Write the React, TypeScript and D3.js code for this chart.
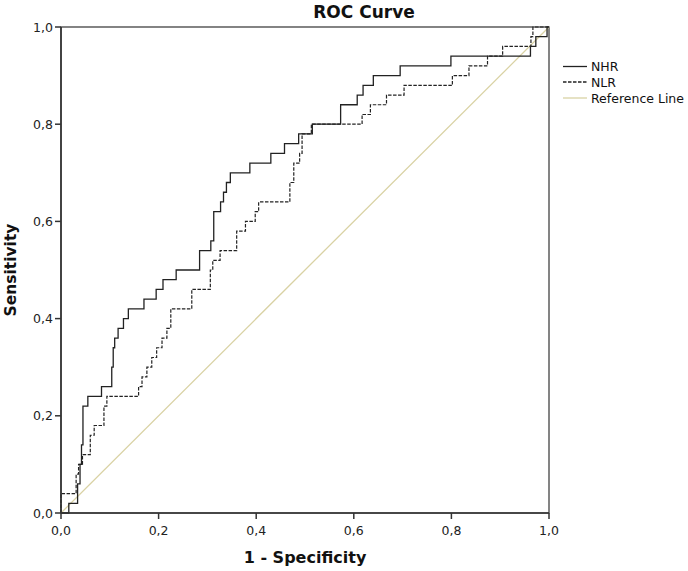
import React from "react";
import * as d3 from "d3";

// ROC operating points (1 - specificity, sensitivity) at each step corner
const nhrFpr = [0, 0.016, 0.034, 0.039, 0.042, 0.045, 0.055, 0.083, 0.104, 0.107, 0.110, 0.117, 0.128, 0.138, 0.170, 0.195, 0.209, 0.236, 0.284, 0.307, 0.313, 0.327, 0.333, 0.339, 0.347, 0.387, 0.430, 0.458, 0.487, 0.515, 0.573, 0.607, 0.619, 0.640, 0.695, 0.799, 0.962, 0.973, 0.996, 1];
const nhrTpr = [0, 0.02, 0.06, 0.10, 0.14, 0.22, 0.24, 0.26, 0.30, 0.34, 0.36, 0.38, 0.40, 0.42, 0.44, 0.46, 0.48, 0.50, 0.54, 0.56, 0.62, 0.64, 0.66, 0.68, 0.70, 0.72, 0.74, 0.76, 0.78, 0.80, 0.84, 0.86, 0.88, 0.90, 0.92, 0.94, 0.96, 0.98, 1.0, 1];

const nlrFpr = [0, 0, 0.031, 0.036, 0.044, 0.060, 0.068, 0.088, 0.094, 0.159, 0.166, 0.176, 0.186, 0.196, 0.207, 0.217, 0.225, 0.268, 0.306, 0.311, 0.326, 0.360, 0.378, 0.398, 0.405, 0.469, 0.477, 0.489, 0.494, 0.513, 0.617, 0.634, 0.667, 0.703, 0.802, 0.836, 0.874, 0.905, 0.963, 0.967, 1];
const nlrTpr = [0, 0.04, 0.08, 0.10, 0.12, 0.16, 0.18, 0.22, 0.24, 0.26, 0.28, 0.30, 0.32, 0.34, 0.36, 0.38, 0.42, 0.46, 0.50, 0.52, 0.54, 0.58, 0.60, 0.62, 0.64, 0.68, 0.72, 0.74, 0.78, 0.80, 0.82, 0.84, 0.86, 0.88, 0.90, 0.92, 0.94, 0.96, 0.98, 1.0, 1];

const refLine = [0, 1];
const tickValues = [0, 0.2, 0.4, 0.6, 0.8, 1.0];
const seriesNames = ["NHR", "NLR", "Reference Line"];

const W = 688;
const H = 571;
const margin = { left: 61, right: 140, top: 27, bottom: 58 };
const FONT = "'DejaVu Sans', Verdana, sans-serif";
const AXIS = "#333";
const REF_COLOR = "#d9d2a4";

const locale = d3.formatLocale({ decimal: ",", thousands: ".", grouping: [3], currency: ["", ""] });
const fmt = locale.format(".1f");

export default function App() {
  const x = d3.scaleLinear().domain([0, 1]).range([margin.left, W - margin.right + 1]);
  const y = d3.scaleLinear().domain([0, 1]).range([H - margin.bottom, margin.top]);

  const step = d3
    .line<[number, number]>()
    .x((d) => x(d[0]))
    .y((d) => y(d[1]))
    .curve(d3.curveStepAfter);

  const nhrPath = step(nhrFpr.map((v, i) => [v, nhrTpr[i]] as [number, number])) || "";
  const nlrPath = step(nlrFpr.map((v, i) => [v, nlrTpr[i]] as [number, number])) || "";
  const refPath =
    d3
      .line<number>()
      .x((d) => x(d))
      .y((d) => y(d))(refLine) || "";

  const [x0, x1] = x.range();
  const [y0, y1] = y.range();

  const legendX = 563;
  const legendRows = [66.5, 82, 98];
  const legendStyles = [
    { stroke: "#222", dash: undefined as string | undefined },
    { stroke: "#222", dash: "3.5,1.5" },
    { stroke: REF_COLOR, dash: undefined },
  ];

  return (
    <svg
      width={W}
      height={H}
      style={{ position: "absolute", left: 0, top: 0, background: "#fff" }}
      fontFamily={FONT}
    >
      {/* title */}
      <text x={364} y={17.5} textAnchor="middle" fontSize={17} fontWeight="bold" fill="#111">
        ROC Curve
      </text>

      {/* plot frame */}
      <rect x={x0} y={y1} width={x1 - x0} height={y0 - y1} fill="none" stroke={AXIS} strokeWidth={1.2} />

      {/* reference diagonal */}
      <path d={refPath} fill="none" stroke={REF_COLOR} strokeWidth={1.3} />

      {/* curves */}
      <path d={nlrPath} fill="none" stroke="#222" strokeWidth={1.2} strokeDasharray="3.5,1.5" />
      <path d={nhrPath} fill="none" stroke="#222" strokeWidth={1.3} />

      {/* axes */}
      <line x1={x0} x2={x0} y1={y1} y2={y0} stroke={AXIS} strokeWidth={1.6} />
      <line x1={x0} x2={x1} y1={y0} y2={y0} stroke={AXIS} strokeWidth={1.6} />

      {tickValues.map((t) => (
        <g key={"x" + t}>
          <line x1={x(t)} x2={x(t)} y1={y0} y2={y0 + 6} stroke={AXIS} strokeWidth={1.5} />
          <text x={x(t)} y={y0 + 22} textAnchor="middle" fontSize={12.5} fill="#222">
            {fmt(t)}
          </text>
        </g>
      ))}
      {tickValues.map((t) => (
        <g key={"y" + t}>
          <line x1={x0 - 6} x2={x0} y1={y(t)} y2={y(t)} stroke={AXIS} strokeWidth={1.5} />
          <text x={x0 - 8} y={y(t)} dy="0.36em" textAnchor="end" fontSize={12.5} fill="#222">
            {fmt(t)}
          </text>
        </g>
      ))}

      {/* axis titles */}
      <text x={(x0 + x1) / 2} y={563} textAnchor="middle" fontSize={16} fontWeight="bold" fill="#111">
        1 - Specificity
      </text>
      <text
        transform={`translate(16,${(y0 + y1) / 2}) rotate(-90)`}
        textAnchor="middle"
        fontSize={15.5}
        fontWeight="bold"
        fill="#111"
      >
        Sensitivity
      </text>

      {/* legend */}
      {seriesNames.map((name, i) => (
        <g key={name}>
          <line
            x1={legendX}
            x2={legendX + 24}
            y1={legendRows[i]}
            y2={legendRows[i]}
            stroke={legendStyles[i].stroke}
            strokeWidth={1.3}
            strokeDasharray={legendStyles[i].dash}
          />
          <text x={legendX + 28} y={legendRows[i] + 4.5} fontSize={12.5} fill="#111">
            {name}
          </text>
        </g>
      ))}
    </svg>
  );
}
